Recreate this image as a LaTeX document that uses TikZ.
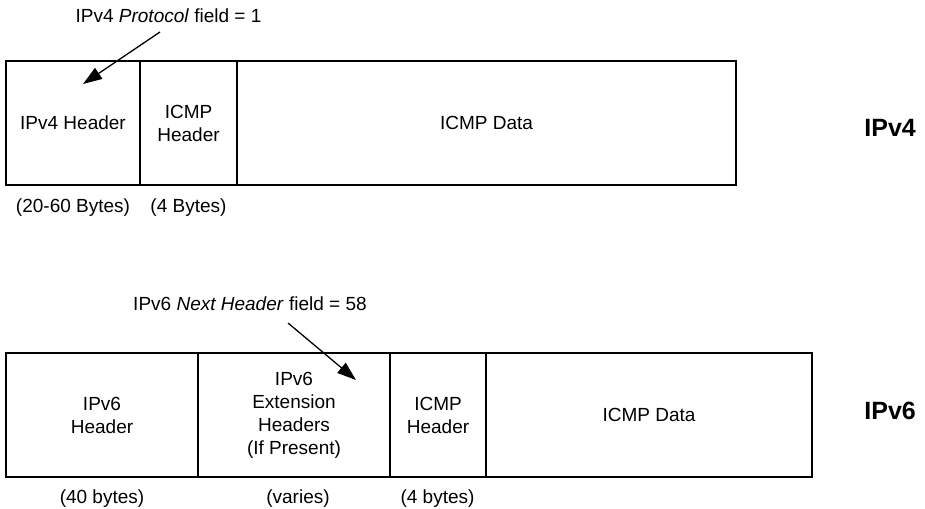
\documentclass[tikz,border=0pt]{standalone}
\usepackage{fontspec}
\setmainfont{Liberation Sans}
\usetikzlibrary{arrows.meta}
\begin{document}
\begin{tikzpicture}[x=1pt,y=-1pt,
  cell/.style={draw=black,line width=1.3pt,minimum height=124pt,inner sep=0pt,align=center,
    font=\fontsize{19}{23}\selectfont},
  lbl/.style={anchor=base,inner sep=0pt,font=\fontsize{19}{23}\selectfont},
  big/.style={anchor=base east,inner sep=0pt,font=\fontsize{25}{30}\selectfont\bfseries},
  ptr/.style={line width=1.3pt,-{Triangle[length=19pt,width=13pt]}}]
\useasboundingbox (0,0) rectangle (925,508);
% IPv4 row
\node[cell,minimum width=134pt] (v4h) at (73,123) {IPv4 Header};
\node[cell,minimum width=97pt] (v4i) at (188.5,123) {ICMP\\Header};
\node[cell,minimum width=499pt] (v4d) at (486.5,123) {ICMP Data};
\node[big] (v4) at (916,136) {IPv4};
\node[lbl] (v4t) at (168.5,23) {IPv4 \textit{Protocol} field = 1};
\node[lbl] (v4b1) at (73,212) {(20-60 Bytes)};
\node[lbl] (v4b2) at (188.5,212) {(4 Bytes)};
\coordinate (a1s) at (160,32);
\coordinate (a1t) at (83,84);
\draw[ptr] (a1s) -- (a1t);
% IPv6 row
\node[cell,minimum width=192pt] (v6h) at (102,415) {IPv6\\Header};
\node[cell,minimum width=192pt] (v6e) at (294,415) {IPv6\\Extension\\Headers\\(If Present)};
\node[cell,minimum width=96pt] (v6i) at (438,415) {ICMP\\Header};
\node[cell,minimum width=326pt] (v6d) at (649,415) {ICMP Data};
\node[big] (v6) at (916,419) {IPv6};
\node[lbl] (v6t) at (250,310) {IPv6 \textit{Next Header} field = 58};
\node[lbl] (v6b1) at (102,503) {(40 bytes)};
\node[lbl] (v6b2) at (298,503) {(varies)};
\node[lbl] (v6b3) at (437.5,503) {(4 bytes)};
\coordinate (a2s) at (288,323);
\coordinate (a2t) at (356,380);
\draw[ptr] (a2s) -- (a2t);
\end{tikzpicture}
\end{document}
